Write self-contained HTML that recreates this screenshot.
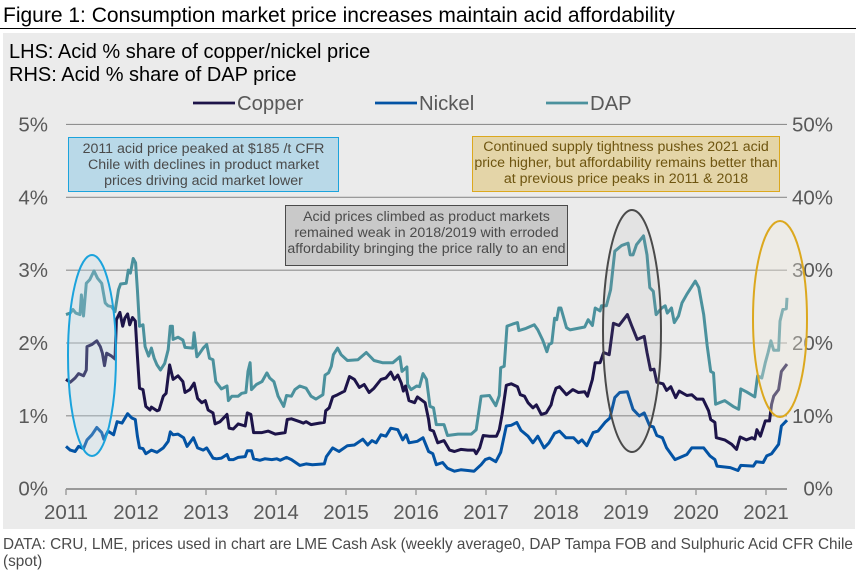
<!DOCTYPE html>
<html lang="en">
<head>
<meta charset="utf-8">
<title>Figure 1: Consumption market price increases maintain acid affordability</title>
<style>
html,body{margin:0;padding:0;background:#fff;}
body{width:856px;height:573px;overflow:hidden;font-family:"Liberation Sans",Arial,sans-serif;}
svg{display:block;}
text{font-family:"Liberation Sans",Arial,sans-serif;}
</style>
</head>
<body>
<svg id="chart" xmlns="http://www.w3.org/2000/svg" width="856" height="573" viewBox="0 0 856 573">
  <text x="3" y="22" font-size="21" fill="#000">Figure 1: Consumption market price increases maintain acid affordability</text>
  <rect x="0" y="28" width="856" height="1" fill="#000"/>
  <rect x="3" y="33" width="852" height="496" fill="#ebebeb"/>
  <text x="9" y="58" font-size="20" fill="#000">LHS: Acid % share of copper/nickel price</text>
  <text x="9" y="81" font-size="20" fill="#000">RHS: Acid % share of DAP price</text>
  <g id="grid"></g>
  <g id="axes"></g>
  <g id="series"></g>
  <g id="legend"></g>
  <ellipse cx="92" cy="355.5" rx="24" ry="100.5" fill="#bcdcec" fill-opacity="0.25" stroke="#1ba3dc" stroke-width="2"/>
  <ellipse cx="632" cy="331" rx="29" ry="121" fill="#9a9a9a" fill-opacity="0.1" stroke="#4a4a4a" stroke-width="2"/>
  <ellipse cx="780" cy="319" rx="27" ry="98" fill="#f2ecdc" fill-opacity="0.35" stroke="#dca81e" stroke-width="2"/>
  <g>
    <rect x="68.5" y="137.5" width="270" height="54" fill="#b9d9e8" stroke="#1ba3dc" stroke-width="1"/>
    <text x="203.5" y="153" font-size="14.2" fill="#4a4a4a" text-anchor="middle">2011 acid price peaked at $185 /t CFR</text>
    <text x="203.5" y="169" font-size="14.2" fill="#4a4a4a" text-anchor="middle">Chile with declines in product market</text>
    <text x="203.5" y="185" font-size="14.2" fill="#4a4a4a" text-anchor="middle">prices driving acid market lower</text>
  </g>
  <g>
    <rect x="285.5" y="205.5" width="282" height="60" fill="#c9c9c9" stroke="#4a4a4a" stroke-width="1"/>
    <text x="426.5" y="221" font-size="14.2" fill="#4a4a4a" text-anchor="middle">Acid prices climbed as product markets</text>
    <text x="426.5" y="237" font-size="14.2" fill="#4a4a4a" text-anchor="middle">remained weak in 2018/2019 with erroded</text>
    <text x="426.5" y="253" font-size="14.2" fill="#4a4a4a" text-anchor="middle">affordability bringing the price rally to an end</text>
  </g>
  <g>
    <rect x="472.5" y="136.5" width="307" height="55" fill="#e4d5a8" stroke="#dca81e" stroke-width="1"/>
    <text x="626" y="151" font-size="14.2" fill="#6e5510" text-anchor="middle">Continued supply tightness pushes 2021 acid</text>
    <text x="626" y="167" font-size="14.2" fill="#6e5510" text-anchor="middle">price higher, but affordability remains better than</text>
    <text x="626" y="183" font-size="14.2" fill="#6e5510" text-anchor="middle">at previous price peaks in 2011 &amp; 2018</text>
  </g>
  <text x="3" y="549" font-size="15.35" fill="#4a4a4a">DATA: CRU, LME, prices used in chart are LME Cash Ask (weekly average0, DAP Tampa FOB and Sulphuric Acid CFR Chile</text>
  <text x="3" y="566" font-size="15.35" fill="#4a4a4a">(spot)</text>
</svg>
<script>
const xTickLabels = ['2011','2012','2013','2014','2015','2016','2017','2018','2019','2020','2021'];
const leftTickValues = [0,1,2,3,4,5];
const rightTickValues = [0,10,20,30,40,50];

const copperYears = [2011.00,2011.06,2011.13,2011.18,2011.25,2011.29,2011.30,2011.37,2011.44,2011.49,2011.52,2011.55,2011.58,2011.65,2011.70,2011.72,2011.77,2011.81,2011.84,2011.88,2011.91,2011.95,2011.99,2012.02,2012.05,2012.10,2012.14,2012.20,2012.22,2012.30,2012.33,2012.39,2012.43,2012.48,2012.53,2012.60,2012.67,2012.70,2012.77,2012.83,2012.88,2012.94,2012.99,2013.03,2013.10,2013.13,2013.20,2013.30,2013.33,2013.39,2013.46,2013.56,2013.59,2013.64,2013.68,2013.80,2013.89,2013.99,2014.13,2014.16,2014.22,2014.34,2014.39,2014.43,2014.50,2014.62,2014.69,2014.71,2014.76,2014.81,2014.88,2014.98,2015.05,2015.12,2015.19,2015.26,2015.33,2015.40,2015.50,2015.57,2015.64,2015.69,2015.74,2015.79,2015.82,2015.85,2015.90,2015.98,2016.02,2016.09,2016.13,2016.18,2016.20,2016.25,2016.31,2016.40,2016.48,2016.55,2016.64,2016.74,2016.83,2016.86,2016.91,2016.96,2017.05,2017.15,2017.19,2017.23,2017.29,2017.36,2017.45,2017.49,2017.55,2017.60,2017.67,2017.72,2017.79,2017.86,2017.93,2017.96,2018.00,2018.05,2018.15,2018.24,2018.32,2018.41,2018.45,2018.52,2018.56,2018.63,2018.68,2018.76,2018.82,2018.90,2019.02,2019.08,2019.16,2019.26,2019.30,2019.35,2019.40,2019.44,2019.53,2019.58,2019.64,2019.71,2019.76,2019.87,2019.94,2020.01,2020.10,2020.18,2020.21,2020.27,2020.29,2020.41,2020.51,2020.58,2020.63,2020.72,2020.80,2020.84,2020.87,2020.92,2020.99,2021.05,2021.08,2021.11,2021.18,2021.22,2021.30];
const copperShare = [1.50,1.46,1.52,1.58,1.55,1.63,1.95,1.98,2.03,1.95,1.86,1.69,1.86,1.82,1.78,2.32,2.42,2.23,2.34,2.40,2.25,2.35,2.30,1.82,1.38,1.36,1.13,1.08,1.12,1.07,1.08,1.27,1.31,1.70,1.50,1.55,1.47,1.32,1.36,1.45,1.24,1.18,1.21,1.08,1.04,0.89,0.92,1.02,0.83,0.82,0.89,0.86,1.04,1.02,0.77,0.77,0.79,0.75,0.77,0.95,0.96,0.92,0.90,0.92,0.88,0.90,0.91,1.07,1.11,1.26,1.29,1.34,1.54,1.50,1.39,1.43,1.32,1.38,1.50,1.52,1.60,1.50,1.56,1.45,1.34,1.41,1.21,1.18,1.26,1.21,1.18,0.95,0.81,0.79,0.63,0.66,0.53,0.51,0.54,0.53,0.53,0.48,0.56,0.73,0.72,0.72,0.81,1.02,1.42,1.44,1.40,1.29,1.27,1.18,1.11,1.15,1.02,1.04,1.15,1.27,1.38,1.40,1.29,1.36,1.32,1.33,1.27,1.50,1.73,1.73,1.87,1.84,2.27,2.24,2.39,2.24,2.05,2.09,1.87,1.63,1.64,1.46,1.44,1.35,1.40,1.25,1.34,1.28,1.29,1.23,1.23,1.07,0.95,0.91,0.70,0.67,0.61,0.54,0.71,0.67,0.70,0.68,0.81,0.72,0.93,0.93,1.16,1.27,1.36,1.61,1.71];

const nickelYears = [2011.00,2011.06,2011.13,2011.18,2011.25,2011.30,2011.37,2011.44,2011.51,2011.54,2011.60,2011.68,2011.73,2011.80,2011.88,2011.94,2011.99,2012.02,2012.05,2012.10,2012.14,2012.22,2012.30,2012.39,2012.46,2012.49,2012.53,2012.60,2012.68,2012.73,2012.82,2012.88,2012.96,2013.01,2013.10,2013.15,2013.22,2013.30,2013.33,2013.39,2013.46,2013.56,2013.59,2013.65,2013.68,2013.77,2013.84,2013.94,2014.01,2014.06,2014.15,2014.22,2014.34,2014.43,2014.52,2014.69,2014.72,2014.81,2014.90,2015.02,2015.12,2015.24,2015.31,2015.37,2015.43,2015.50,2015.57,2015.64,2015.74,2015.81,2015.86,2015.90,2016.02,2016.10,2016.18,2016.24,2016.29,2016.38,2016.45,2016.55,2016.64,2016.74,2016.83,2016.93,2016.99,2017.05,2017.14,2017.21,2017.29,2017.36,2017.44,2017.50,2017.60,2017.67,2017.74,2017.83,2017.90,2017.98,2018.05,2018.14,2018.25,2018.32,2018.37,2018.44,2018.53,2018.60,2018.70,2018.77,2018.84,2018.91,2019.02,2019.10,2019.19,2019.26,2019.34,2019.39,2019.44,2019.52,2019.58,2019.70,2019.87,2019.94,2020.11,2020.20,2020.27,2020.30,2020.49,2020.60,2020.64,2020.82,2020.86,2020.96,2021.01,2021.08,2021.18,2021.22,2021.30];
const nickelShare = [0.58,0.53,0.51,0.58,0.55,0.67,0.74,0.84,0.77,0.68,0.79,0.74,0.92,0.90,1.03,0.97,0.95,0.72,0.56,0.55,0.48,0.53,0.50,0.56,0.65,0.78,0.74,0.75,0.70,0.58,0.70,0.56,0.53,0.56,0.42,0.41,0.42,0.47,0.40,0.40,0.43,0.44,0.52,0.52,0.41,0.39,0.41,0.40,0.41,0.39,0.43,0.40,0.32,0.34,0.33,0.34,0.44,0.56,0.51,0.59,0.60,0.68,0.60,0.66,0.63,0.74,0.72,0.83,0.81,0.67,0.74,0.63,0.65,0.70,0.51,0.48,0.33,0.36,0.28,0.24,0.26,0.25,0.24,0.33,0.40,0.42,0.37,0.50,0.86,0.87,0.91,0.80,0.72,0.63,0.72,0.56,0.63,0.76,0.79,0.70,0.70,0.63,0.67,0.59,0.77,0.79,0.91,0.97,1.25,1.32,1.33,1.09,1.00,1.04,0.86,0.85,0.73,0.70,0.56,0.40,0.47,0.56,0.56,0.45,0.40,0.31,0.29,0.25,0.32,0.31,0.37,0.36,0.45,0.48,0.61,0.86,0.94];

const dapYears = [2011.00,2011.06,2011.10,2011.14,2011.20,2011.22,2011.25,2011.29,2011.34,2011.40,2011.45,2011.51,2011.56,2011.60,2011.65,2011.70,2011.75,2011.78,2011.86,2011.89,2011.92,2011.96,2011.995,2012.02,2012.05,2012.10,2012.13,2012.18,2012.22,2012.26,2012.30,2012.35,2012.41,2012.46,2012.49,2012.52,2012.53,2012.60,2012.67,2012.70,2012.81,2012.83,2012.87,2012.91,2012.96,2013.01,2013.05,2013.10,2013.14,2013.22,2013.30,2013.32,2013.37,2013.46,2013.51,2013.57,2013.60,2013.63,2013.65,2013.72,2013.80,2013.87,2013.91,2013.97,2014.03,2014.11,2014.15,2014.22,2014.27,2014.34,2014.43,2014.50,2014.57,2014.67,2014.70,2014.75,2014.79,2014.82,2014.88,2014.93,2015.02,2015.17,2015.29,2015.40,2015.52,2015.67,2015.77,2015.80,2015.87,2015.88,2015.93,2016.01,2016.05,2016.10,2016.15,2016.20,2016.25,2016.29,2016.40,2016.45,2016.60,2016.79,2016.86,2016.93,2017.05,2017.14,2017.19,2017.21,2017.26,2017.30,2017.38,2017.45,2017.47,2017.57,2017.69,2017.74,2017.81,2017.87,2017.90,2017.94,2017.98,2018.01,2018.04,2018.07,2018.15,2018.20,2018.41,2018.46,2018.52,2018.56,2018.63,2018.65,2018.72,2018.78,2018.84,2018.94,2019.03,2019.06,2019.10,2019.15,2019.25,2019.30,2019.34,2019.39,2019.43,2019.51,2019.56,2019.59,2019.65,2019.69,2019.75,2019.80,2019.87,2019.99,2020.04,2020.11,2020.16,2020.21,2020.25,2020.28,2020.41,2020.53,2020.61,2020.64,2020.72,2020.84,2020.88,2020.94,2020.99,2021.03,2021.07,2021.11,2021.18,2021.20,2021.24,2021.29,2021.30];
const dapShare = [23.9,24.1,24.6,24.1,23.9,26.6,23.7,28.2,28.7,29.9,28.9,28.2,25.5,25.1,25.0,24.3,27.3,28.1,28.2,30.0,29.6,31.6,31.0,27.3,22.3,22.5,19.5,18.2,19.3,17.9,17.0,16.3,17.2,19.1,22.3,22.3,20.5,20.8,20.4,19.4,19.3,21.4,18.1,18.6,19.3,19.8,17.9,17.7,14.7,13.7,14.1,12.1,12.7,12.7,13.1,13.2,16.1,17.3,13.6,14.3,14.7,15.9,15.2,14.7,12.7,11.3,12.8,12.7,13.6,14.1,13.8,12.7,12.3,12.9,15.6,15.9,16.8,18.4,19.3,18.4,17.6,17.7,18.7,17.6,17.3,17.3,18.1,16.1,16.7,14.3,13.6,14.1,14.0,15.8,15.0,11.3,11.1,8.8,8.8,7.3,7.5,7.5,8.1,12.7,12.8,11.4,12.8,16.6,16.8,22.3,22.6,22.8,21.7,22.0,22.5,21.8,20.4,18.8,19.8,20.0,23.4,23.2,24.8,24.8,22.1,21.8,22.2,23.2,22.4,24.8,24.4,25.1,25.1,27.3,32.6,33.4,33.7,32.1,32.1,33.5,34.7,32.1,27.6,27.1,23.9,24.8,25.1,24.1,24.8,22.8,23.7,25.5,26.7,28.5,27.6,23.9,19.6,16.1,15.9,11.6,12.1,11.3,10.9,13.7,13.3,12.6,15.5,15.2,17.3,18.7,20.3,19.0,19.0,23.0,24.6,24.7,26.2];

const SVG_NS = 'http://www.w3.org/2000/svg';
function xScale(year){ return 66 + (year - 2011) * 70; }
function yLeft(pct){ return 488.7 - pct * 72.85; }
function yRight(pct){ return 488.7 - pct * 7.285; }

function mk(tag, attrs){
  const el = document.createElementNS(SVG_NS, tag);
  Object.keys(attrs).forEach(function(k){ el.setAttribute(k, attrs[k]); });
  return el;
}
function linePath(years, values, yFn){
  return years.map(function(y, i){
    return (i ? 'L' : 'M') + xScale(y).toFixed(1) + ' ' + yFn(values[i]).toFixed(1);
  }).join('');
}

const gridG = document.getElementById('grid');
const axesG = document.getElementById('axes');
const seriesG = document.getElementById('series');
const legendG = document.getElementById('legend');
const plotRight = xScale(2021.3);

leftTickValues.forEach(function(v, i){
  const y = yLeft(v);
  if (v > 0) {
    const g = mk('line', {x1: 66, x2: plotRight, y1: y, y2: y, stroke: '#8f8f8f', 'stroke-width': 1.1});
    
    
    gridG.appendChild(g);
  }
  const lt = mk('text', {x: 48, y: y + 7, 'font-size': 20.5, fill: '#595959', 'text-anchor': 'end'});
  lt.textContent = v + '%';
  
  
  axesG.appendChild(lt);
  const rt = mk('text', {x: 833, y: y + 7, 'font-size': 20.5, fill: '#595959', 'text-anchor': 'end'});
  rt.textContent = rightTickValues[i] + '%';
  
  
  axesG.appendChild(rt);
});

const xAxis = mk('line', {x1: 66, x2: plotRight, y1: 489, y2: 489, stroke: '#999', 'stroke-width': 2});


axesG.appendChild(xAxis);

xTickLabels.forEach(function(lab){
  const x = xScale(+lab);
  const tick = mk('line', {x1: x, x2: x, y1: 489, y2: 495, stroke: '#999', 'stroke-width': 1.4});
  
  
  axesG.appendChild(tick);
  const t = mk('text', {x: x, y: 519, 'font-size': 20.5, fill: '#595959', 'text-anchor': 'middle'});
  t.textContent = lab;
  
  
  axesG.appendChild(t);
});

const dapLine = mk('path', {d: linePath(dapYears, dapShare, yRight), fill: 'none', stroke: '#4b919d', 'stroke-width': 3, 'stroke-linejoin': 'round'});


seriesG.appendChild(dapLine);

const nickelLine = mk('path', {d: linePath(nickelYears, nickelShare, yLeft), fill: 'none', stroke: '#0353a4', 'stroke-width': 3, 'stroke-linejoin': 'round'});


seriesG.appendChild(nickelLine);

const copperLine = mk('path', {d: linePath(copperYears, copperShare, yLeft), fill: 'none', stroke: '#1d1449', 'stroke-width': 3, 'stroke-linejoin': 'round'});


seriesG.appendChild(copperLine);

function legendEntry(label, color, x){
  const g = mk('g', {});
  
  
  g.appendChild(mk('line', {x1: x, x2: x + 42, y1: 103, y2: 103, stroke: color, 'stroke-width': 2.8}));
  const t = mk('text', {x: x + 44, y: 110, 'font-size': 20.3, fill: '#595959'});
  t.textContent = label;
  g.appendChild(t);
  legendG.appendChild(g);
}
legendEntry('Copper', '#1d1449', 193);
legendEntry('Nickel', '#0353a4', 375);
legendEntry('DAP', '#4b919d', 546);
</script>
</body>
</html>
